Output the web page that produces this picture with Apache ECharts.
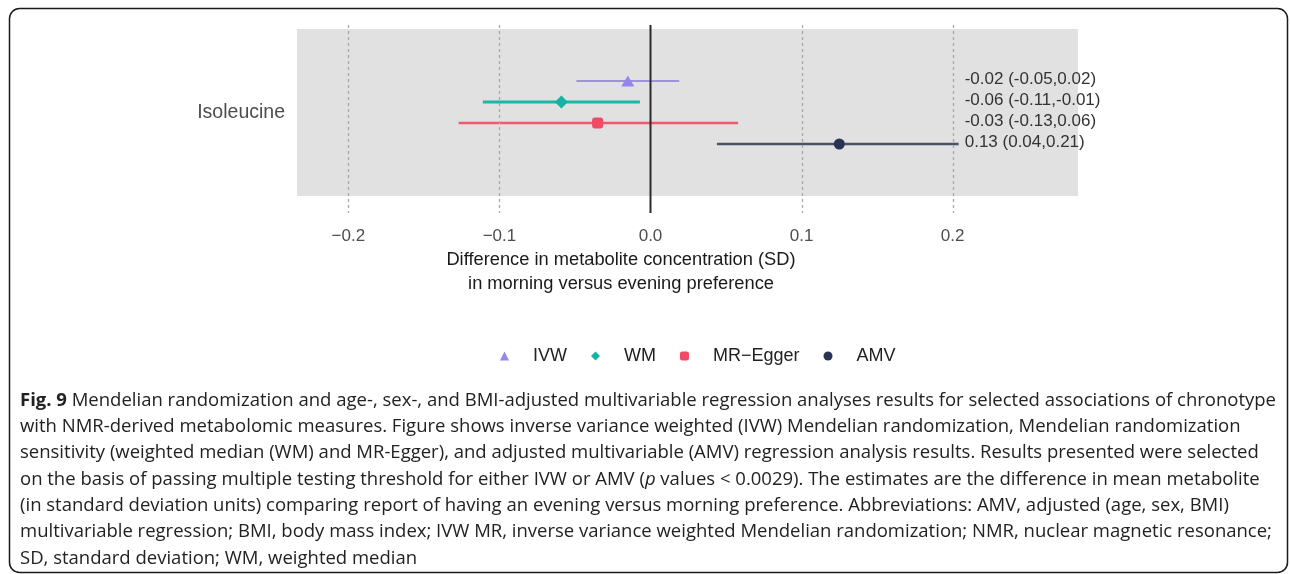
<!DOCTYPE html>
<html>
<head>
<meta charset="utf-8">
<style>
html, body { margin: 0; padding: 0; background: #fff; }
#main { width: 1290px; height: 574px; }
</style>
<script src="https://cdn.jsdelivr.net/npm/echarts@6/dist/echarts.min.js"></script>
</head>
<body>
<div id="main"></div>
<script>
// forest plot data
var metabolite = 'Isoleucine';
var methods = ['IVW', 'WM', 'MR\u2212Egger', 'AMV'];
var estimates = [-0.015, -0.059, -0.035, 0.125];
var lower = [-0.049, -0.111, -0.127, 0.044];
var upper = [0.019, -0.007, 0.058, 0.204];
var estLabels = ['-0.02 (-0.05,0.02)', '-0.06 (-0.11,-0.01)', '-0.03 (-0.13,0.06)', '0.13 (0.04,0.21)'];
var xTicks = [-0.2, -0.1, 0, 0.1, 0.2];
var xRange = [-0.234, 0.283];

var captionLines = [
    'with NMR-derived metabolomic measures. Figure shows inverse variance weighted (IVW) Mendelian randomization, Mendelian randomization',
    'sensitivity (weighted median (WM) and MR-Egger), and adjusted multivariable (AMV) regression analysis results. Results presented were selected',
    null,
    '(in standard deviation units) comparing report of having an evening versus morning preference. Abbreviations: AMV, adjusted (age, sex, BMI)',
    'multivariable regression; BMI, body mass index; IVW MR, inverse variance weighted Mendelian randomization; NMR, nuclear magnetic resonance;',
    'SD, standard deviation; WM, weighted median'
];

var pointColors = ['#9585ec', '#12b5a4', '#f04a64', '#2b3352'];
var lineColors = ['#9d93dd', '#1bb8a8', '#f2576e', '#4b5168'];
var lineWidths = [2, 3, 2.5, 2.5];
var symbols = ['triangle', 'diamond', 'roundRect', 'circle'];
var symbolSizes = [[13, 11], 13, 11, 11];

var myChart = echarts.init(document.getElementById('main'));

var gridL = 297, gridW = 781;
var labelX = Math.max.apply(null, upper) + 0.004;

function tickFmt(v) {
    return (v < -1e-9 ? '\u2212' : '') + Math.abs(v).toFixed(1);
}

var series = [];

// reference lines (dashed grid + solid zero line)
series.push({
    type: 'custom', xAxisIndex: 1, yAxisIndex: 1, z: 5, silent: true,
    data: xTicks.map(function (v) { return [v, 0]; }),
    renderItem: function (params, api) {
        var v = api.value(0);
        var x = Math.round(api.coord([v, 0])[0]) + 0.5;
        var cs = params.coordSys;
        var zero = Math.abs(v) < 1e-9;
        return {
            type: 'line',
            shape: { x1: x, y1: cs.y, x2: x, y2: cs.y + cs.height },
            style: zero ? { stroke: '#2b2b2b', lineWidth: 2 }
                        : { stroke: '#a9a9a9', lineWidth: 1.3, lineDash: [3, 3] }
        };
    }
});

// confidence intervals + text
series.push({
    type: 'custom', xAxisIndex: 2, yAxisIndex: 2, z: 3, silent: true,
    encode: { x: [0, 2], y: 1 },
    data: methods.map(function (m, i) { return [lower[i], i, upper[i]]; }),
    renderItem: function (params, api) {
        var i = params.dataIndex;
        var p1 = api.coord([api.value(0), i]);
        var p2 = api.coord([api.value(2), i]);
        var pt = api.coord([labelX, i]);
        return {
            type: 'group',
            children: [{
                type: 'line',
                shape: { x1: p1[0], y1: p1[1], x2: p2[0], y2: p2[1] },
                style: { stroke: lineColors[i], lineWidth: lineWidths[i] }
            }, {
                type: 'text',
                x: pt[0], y: pt[1] - 2,
                style: {
                    text: estLabels[i], fill: '#333',
                    font: '17px "Liberation Sans", Arial, sans-serif',
                    textAlign: 'left', textVerticalAlign: 'middle'
                }
            }]
        };
    }
});

methods.forEach(function (m, i) {
    series.push({
        name: m, type: 'scatter', xAxisIndex: 2, yAxisIndex: 2, z: 4,
        symbol: symbols[i], symbolSize: symbolSizes[i],
        itemStyle: { color: pointColors[i], opacity: 1 },
        data: [[estimates[i], i]]
    });
});

var hiddenX = function (idx) {
    return {
        type: 'value', gridIndex: idx, min: xRange[0], max: xRange[1],
        show: false, splitLine: { show: false }
    };
};

var option = {
    animation: false,
    textStyle: { fontFamily: '"Liberation Sans", Arial, sans-serif' },
    grid: [
        { left: gridL, width: gridW, top: 29, height: 167, show: true, backgroundColor: '#e1e1e1', borderWidth: 0 },
        { left: gridL, width: gridW, top: 25, height: 188 },
        { left: gridL, width: gridW, top: 70.5, height: 84 }
    ],
    xAxis: [
        hiddenX(0),
        {
            type: 'value', gridIndex: 1, min: xRange[0], max: xRange[1],
            axisLine: { show: false }, axisTick: { show: false }, splitLine: { show: false },
            axisLabel: {
                customValues: xTicks, formatter: tickFmt, margin: 15,
                fontSize: 17, color: '#4d4d4d'
            }
        },
        hiddenX(2)
    ],
    yAxis: [
        {
            type: 'category', gridIndex: 0, data: [metabolite],
            axisLine: { show: false }, axisTick: { show: false },
            axisLabel: { fontSize: 19.5, color: '#4d4d4d', margin: 12 }
        },
        { type: 'value', gridIndex: 1, min: 0, max: 1, show: false, splitLine: { show: false } },
        { type: 'category', gridIndex: 2, data: methods, inverse: true, show: false }
    ],
    legend: {
        data: methods, left: 495, top: 342,
        itemWidth: 9, itemHeight: 9, itemGap: 24,
        textStyle: { fontSize: 18, color: '#222', padding: [0, 0, 0, 19] }
    },
    graphic: [
        {
            type: 'rect', silent: true,
            shape: { x: 9.5, y: 8.5, width: 1278, height: 564, r: 10 },
            style: { fill: 'none', stroke: '#1a1a1a', lineWidth: 1.5 }
        },
        {
            type: 'text', x: 621, y: 248,
            style: {
                text: 'Difference in metabolite concentration (SD)\nin morning versus evening preference',
                textAlign: 'center', textVerticalAlign: 'top', fill: '#1a1a1a', lineHeight: 24,
                font: '18.3px "Liberation Sans", Arial, sans-serif'
            }
        }
    ],
    series: series
};

// caption lines
var capSize = 18.5;
var capFont = capSize + 'px "Open Sans", sans-serif';
var capTop = 391, capStep = 26.3;
option.graphic.push({
    type: 'text', x: 20, y: capTop,
    style: {
        text: '{b|Fig. 9} Mendelian randomization and age-, sex-, and BMI-adjusted multivariable regression analyses results for selected associations of chronotype',
        font: capFont, fill: '#222',
        rich: { b: { fontWeight: 'bold', fontFamily: 'Open Sans', fontSize: capSize, fill: '#222' } }
    }
});
option.graphic.push({
    type: 'text', x: 20, y: capTop + capStep * 3,
    style: {
        text: 'on the basis of passing multiple testing threshold for either IVW or AMV ({i|p} values < 0.0029). The estimates are the difference in mean metabolite',
        font: capFont, fill: '#222',
        rich: { i: { fontStyle: 'italic', fontFamily: 'Open Sans', fontSize: capSize, fill: '#222' } }
    }
});
captionLines.forEach(function (t, k) {
    if (!t) return;
    option.graphic.push({
        type: 'text', x: 20, y: capTop + capStep * (k + 1),
        style: { text: t, font: capFont, fill: '#222' }
    });
});

myChart.setOption(option);
</script>
</body>
</html>
